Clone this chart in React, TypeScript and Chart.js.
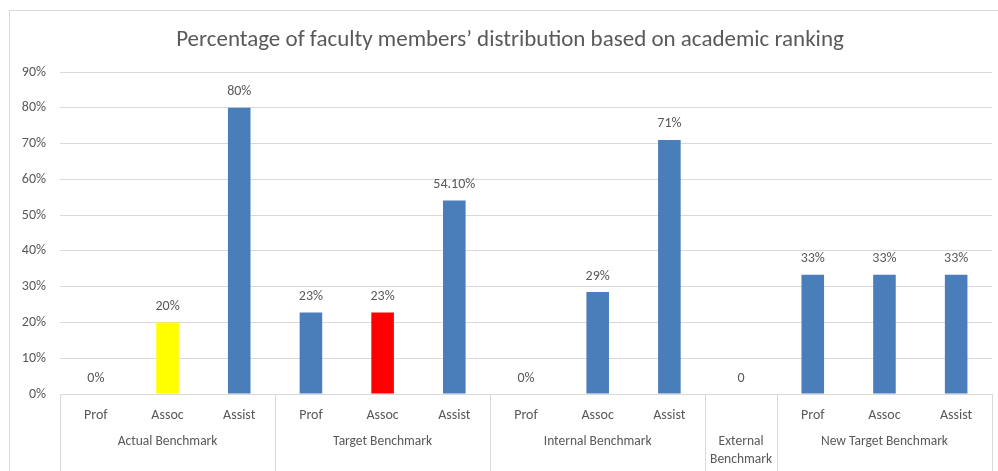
import React, { useEffect, useRef } from "react";
import { Chart, registerables } from "chart.js";

Chart.register(...registerables);

const titleText = "Percentage of faculty members’ distribution based on academic ranking";
const categories = ["Prof", "Assoc", "Assist", "Prof", "Assoc", "Assist", "Prof", "Assoc", "Assist", "", "Prof", "Assoc", "Assist"];
const groups = [
  { label: ["Actual Benchmark"], count: 3 },
  { label: ["Target Benchmark"], count: 3 },
  { label: ["Internal Benchmark"], count: 3 },
  { label: ["External", "Benchmark"], count: 1 },
  { label: ["New Target Benchmark"], count: 3 },
];
const values = [0, 20, 80, 22.8, 22.8, 54.1, 0, 28.5, 71, 0, 33.3, 33.3, 33.3];
const valueLabels = ["0%", "20%", "80%", "23%", "23%", "54.10%", "0%", "29%", "71%", "0", "33%", "33%", "33%"];
const barColors = ["#4a7ebb", "#ffff00", "#4a7ebb", "#4a7ebb", "#ff0000", "#4a7ebb", "#4a7ebb", "#4a7ebb", "#4a7ebb", "#4a7ebb", "#4a7ebb", "#4a7ebb", "#4a7ebb"];
const yTicks = [0, 10, 20, 30, 40, 50, 60, 70, 80, 90];

const FONT = "Carlito, Calibri, Lato, sans-serif";
const TEXT = "#595959";
const GRID = "#d9d9d9";

const decorPlugin = {
  id: "decor",
  beforeDraw(chart: any) {
    const ctx = chart.ctx;
    ctx.save();
    ctx.fillStyle = "#ffffff";
    ctx.fillRect(0, 0, chart.width, chart.height);
    ctx.strokeStyle = GRID;
    ctx.lineWidth = 1;
    ctx.strokeRect(9.5, 10.5, chart.width + 10, chart.height + 10);
    ctx.restore();
  },
  afterDraw(chart: any) {
    const ctx = chart.ctx;
    const x = chart.scales.x;
    const area = chart.chartArea;
    ctx.save();
    // title
    ctx.fillStyle = TEXT;
    ctx.font = `23px ${FONT}`;
    ctx.textAlign = "center";
    ctx.textBaseline = "middle";
    ctx.fillText(titleText, 510, 40);
    // axis line
    ctx.strokeStyle = GRID;
    ctx.lineWidth = 1;
    ctx.beginPath();
    ctx.moveTo(area.left, Math.round(area.bottom) + 0.5);
    ctx.lineTo(area.right, Math.round(area.bottom) + 0.5);
    ctx.stroke();
    // group dividers & labels
    const step = x.getPixelForValue(1) - x.getPixelForValue(0);
    let idx = 0;
    const edges: number[] = [x.getPixelForValue(0) - step / 2];
    ctx.font = `13.5px ${FONT}`;
    groups.forEach((g) => {
      const start = x.getPixelForValue(idx) - step / 2;
      const end = x.getPixelForValue(idx + g.count - 1) + step / 2;
      edges.push(end);
      const cx = (start + end) / 2;
      g.label.forEach((line, i) => {
        ctx.fillText(line, cx, 442 + i * 18);
      });
      idx += g.count;
    });
    edges.forEach((e) => {
      const px = Math.round(e) + 0.5;
      ctx.beginPath();
      ctx.moveTo(px, area.bottom);
      ctx.lineTo(px, chart.height);
      ctx.stroke();
    });
    // value labels
    const meta = chart.getDatasetMeta(0);
    ctx.font = `14px ${FONT}`;
    ctx.fillStyle = TEXT;
    meta.data.forEach((bar: any, i: number) => {
      ctx.fillText(valueLabels[i], bar.x, bar.y - 16);
    });
    ctx.restore();
  },
};

export default function App() {
  const ref = useRef<HTMLCanvasElement>(null);
  useEffect(() => {
    const chart = new Chart(ref.current!, {
      type: "bar",
      data: {
        labels: categories,
        datasets: [
          {
            data: values,
            backgroundColor: barColors,
            barPercentage: 0.315,
            categoryPercentage: 1,
          },
        ],
      },
      options: {
        animation: false,
        responsive: false,
        maintainAspectRatio: false,
        layout: { padding: { top: 72, left: 10, right: 6, bottom: 0 } },
        plugins: { legend: { display: false }, title: { display: false }, tooltip: { enabled: false } },
        scales: {
          x: {
            grid: { display: false },
            border: { display: false },
            ticks: { color: TEXT, font: { family: FONT, size: 14 }, padding: 5, maxRotation: 0, autoSkip: false },
            afterFit: (s: any) => { s.height = 77; },
          },
          y: {
            min: 0,
            max: 90,
            afterBuildTicks: (s: any) => { s.ticks = yTicks.map((v) => ({ value: v })); },
            grid: { color: GRID, drawTicks: false },
            border: { display: false },
            ticks: { color: TEXT, font: { family: FONT, size: 14 }, padding: 14, callback: (v: any) => v + "%" },
            afterFit: (s: any) => { s.width = 50; },
          },
        },
      },
      plugins: [decorPlugin],
    });
    return () => chart.destroy();
  }, []);
  return (
    <div style={{ position: "fixed", left: 0, top: 0, width: 998, height: 471, overflow: "hidden" }}>
      <canvas ref={ref} width={998} height={471} style={{ display: "block" }} />
    </div>
  );
}
